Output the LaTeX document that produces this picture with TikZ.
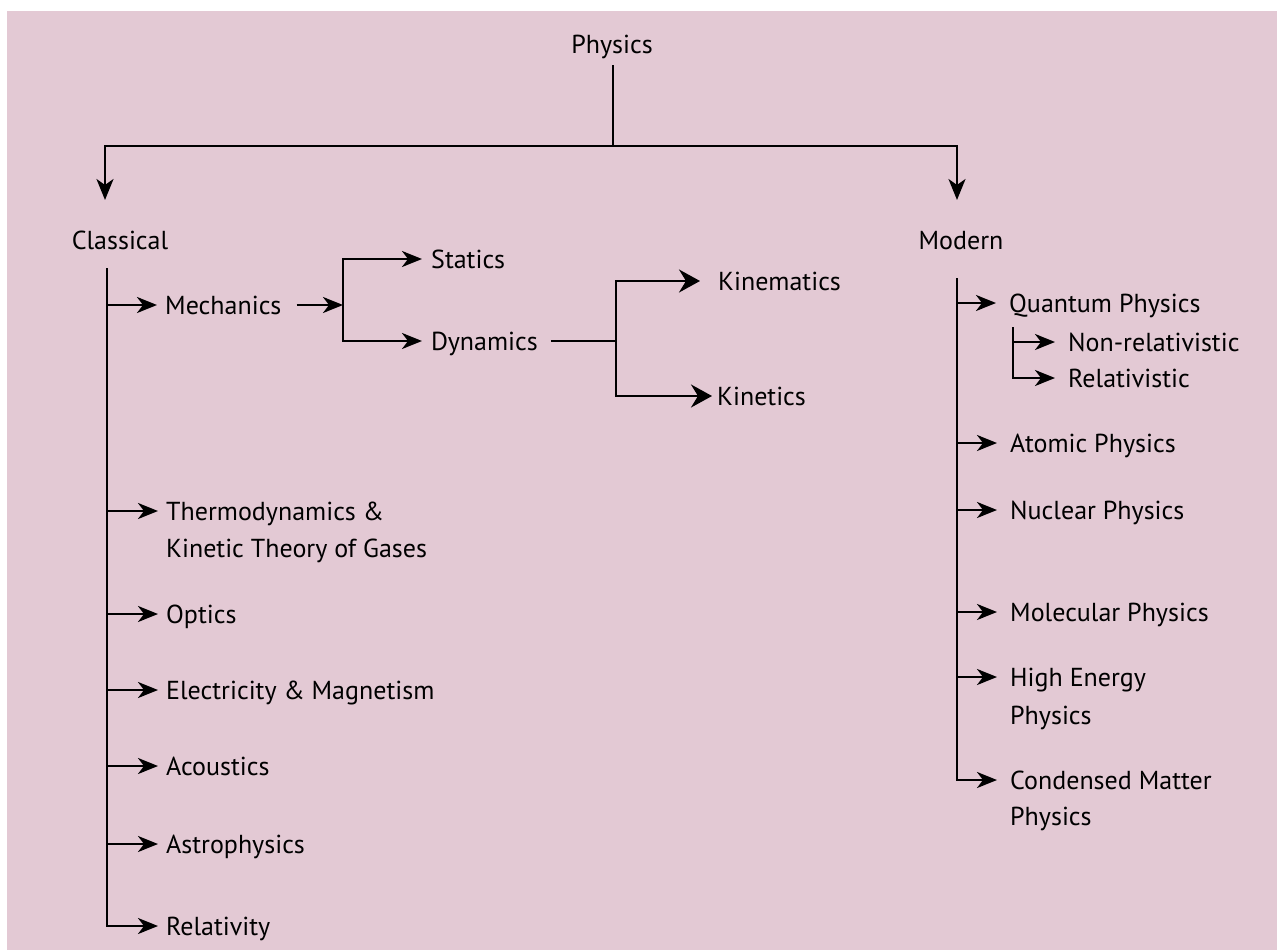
\documentclass[tikz,border=0pt]{standalone}
\usepackage{fontspec}
\setmainfont{PT Sans}
\usetikzlibrary{arrows.meta}
\definecolor{bgpink}{RGB}{227,201,212}
\begin{document}
\begin{tikzpicture}[x=1pt,y=-1pt,
  lbl/.style={anchor=west, inner sep=0pt, text height=18pt, text depth=0pt, font=\fontsize{26}{32}\selectfont},
  ln/.style={line width=2.5pt},
  arr/.style={ln, -{Stealth[length=20pt,width=16pt,inset=6pt]}},
  arrbig/.style={ln, -{Stealth[length=21pt,width=23pt,inset=7pt]}},
  arrdown/.style={ln, -{Stealth[length=21pt,width=17pt,inset=6pt]}}]
\useasboundingbox (0,0) rectangle (1277,950);
\fill[bgpink] (7,11) rectangle (1277,950);
% top level
\node[lbl,anchor=center] (phys) at (612,45) {Physics};
\node[lbl,anchor=center] (cls) at (120,240) {Classical};
\node[lbl,anchor=center] (mod) at (961,240) {Modern};
\coordinate (hub) at (613,146);
\coordinate (clsIn) at (105,200);
\coordinate (modIn) at (957,200);
\draw[ln] ([yshift=-11pt]hub |- phys.south) -- (hub);
\draw[arrdown] (hub) -| (clsIn);
\draw[arrdown] (hub) -| (modIn);
% classical
\coordinate (cTop) at (107,268);
\node[lbl] (mech) at (165,305) {Mechanics};
\node[lbl] (thermo) at (166,511) {Thermodynamics \&};
\node[lbl] (thermoB) at (166,548) {Kinetic Theory of Gases};
\node[lbl] (optics) at (166,614) {Optics};
\node[lbl] (elec) at (166,690) {Electricity \& Magnetism};
\node[lbl] (acou) at (166,766) {Acoustics};
\node[lbl] (astro) at (166,844) {Astrophysics};
\node[lbl] (rel) at (166,926) {Relativity};
\foreach \n in {mech,thermo,optics,elec,acou,astro}
  \draw[arr] (\n.west -| cTop) -- ([xshift=-8pt]\n.west);
\draw[arr] (cTop) |- ([xshift=-8pt]rel.west);
% mechanics
\coordinate (mb) at (343,305);
\node[lbl] (stat) at (431,259) {Statics};
\node[lbl] (dyn) at (431,341) {Dynamics};
\draw[arr] ([xshift=15pt]mech.east) -- (mb);
\draw[arr] (mb) |- ([xshift=-9pt]stat.west);
\draw[arr] (mb) |- ([xshift=-9pt]dyn.west);
% dynamics
\coordinate (db) at (616,341);
\node[lbl] (kinem) at (718,281) {Kinematics};
\node[lbl] (kinet) at (717,396) {Kinetics};
\draw[ln] ([xshift=13pt]dyn.east) -- (db);
\draw[arrbig] (db) |- ([xshift=-18pt]kinem.west);
\draw[arrbig] (db) |- ([xshift=-5pt]kinet.west);
% modern
\coordinate (mTop) at (957,278);
\node[lbl] (quant) at (1009,303) {Quantum Physics};
\node[lbl] (nonrel) at (1068,342) {Non-relativistic};
\node[lbl] (relat) at (1068,378) {Relativistic};
\node[lbl] (atomic) at (1010,443) {Atomic Physics};
\node[lbl] (nuclear) at (1010,510) {Nuclear Physics};
\node[lbl] (molec) at (1010,612) {Molecular Physics};
\node[lbl] (high) at (1010,677) {High Energy};
\node[lbl] (highB) at (1010,715) {Physics};
\node[lbl] (cond) at (1010,780) {Condensed Matter};
\node[lbl] (condB) at (1010,816) {Physics};
\foreach \n in {quant,atomic,nuclear,molec,high}
  \draw[arr] (\n.west -| mTop) -- ([xshift=-13pt]\n.west);
\draw[arr] (mTop) |- ([xshift=-13pt]cond.west);
\coordinate (qb) at (1013,327);
\draw[arr] (qb) |- ([xshift=-13pt]nonrel.west);
\draw[arr] (qb) |- ([xshift=-13pt]relat.west);
\end{tikzpicture}
\end{document}
